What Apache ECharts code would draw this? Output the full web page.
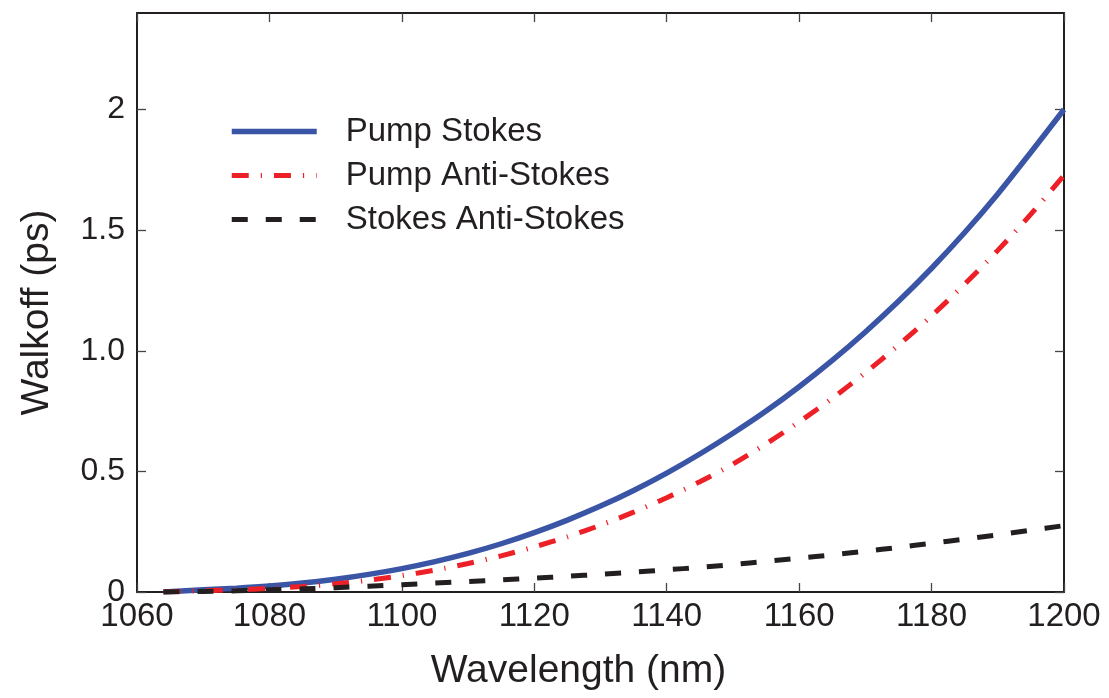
<!DOCTYPE html>
<html>
<head>
<meta charset="utf-8">
<script src="https://cdn.jsdelivr.net/npm/echarts@6/dist/echarts.min.js"></script>
<style>
html,body{margin:0;padding:0;background:#fff;}
#chart{width:1109px;height:698px;}
</style>
</head>
<body>
<div id="chart"></div>
<script>
const wavelengths = [1064,1070,1075,1080,1085,1090,1095,1100,1105,1110,1115,1120,1125,1130,1135,1140,1145,1150,1155,1160,1165,1170,1175,1180,1185,1190,1195,1200];
const pumpStokes = [0.000,0.009,0.016,0.025,0.037,0.053,0.073,0.097,0.126,0.160,0.200,0.246,0.298,0.356,0.421,0.493,0.572,0.658,0.750,0.851,0.960,1.078,1.205,1.342,1.490,1.650,1.823,2.000];
const pumpAntiStokes = [0.000,0.005,0.009,0.015,0.023,0.034,0.049,0.068,0.091,0.118,0.150,0.187,0.229,0.277,0.331,0.391,0.457,0.530,0.614,0.705,0.803,0.909,1.023,1.145,1.276,1.416,1.566,1.727];
const stokesAntiStokes = [0.000,0.002,0.005,0.009,0.013,0.018,0.024,0.030,0.037,0.043,0.050,0.057,0.065,0.073,0.082,0.092,0.102,0.114,0.127,0.140,0.154,0.169,0.185,0.202,0.219,0.237,0.256,0.275];
const seriesNames = ['Pump Stokes','Pump Anti-Stokes','Stokes Anti-Stokes'];
const yTickValues = [0,0.5,1,1.5,2];
const xTitle = 'Wavelength (nm)';
const yTitle = 'Walkoff (ps)';

const FONT = '"Liberation Sans", Arial, Helvetica, sans-serif';
const INK = '#231f20';
const pairs = arr => wavelengths.map((w,i)=>[w,arr[i]]);
const yFmt = v => (v===0 ? '0' : v===2 ? '2' : v.toFixed(1));

const chart = echarts.init(document.getElementById('chart'), null, {renderer:'canvas'});
const axisLine = {show:true, onZero:false, lineStyle:{color:INK, width:2}};
const tick = {show:true, inside:true, length:9, lineStyle:{color:'#444', width:1.3}};

chart.setOption({
  animation:false,
  backgroundColor:'#fff',
  grid:{left:137, right:45, top:13, bottom:106, containLabel:false},
  legend:{
    orient:'vertical', left:229, top:111, padding:0,
    itemWidth:85, itemHeight:14, itemGap:3,
    itemStyle:{opacity:0},
    lineStyle:{width:'inherit', type:'inherit'},
    textStyle:{fontFamily:FONT, fontSize:33, color:INK, lineHeight:41, padding:[0,0,0,24]},
    data:seriesNames
  },
  xAxis:[{
    type:'value', min:1060, max:1200, interval:20, position:'bottom',
    axisLine:axisLine, axisTick:tick, splitLine:{show:false},
    axisLabel:{fontFamily:FONT, fontSize:33, color:INK, margin:8, formatter:v=>String(v)},
    name:xTitle, nameLocation:'middle', nameGap:60,
    nameTextStyle:{fontFamily:FONT, fontSize:39, color:INK, padding:[0,44,0,0]}
  },{
    type:'value', min:1060, max:1200, interval:20, position:'top',
    axisLine:axisLine, axisTick:tick, axisLabel:{show:false}, splitLine:{show:false}
  }],
  yAxis:[{
    type:'value', min:0, max:2.4, position:'left',
    axisLine:axisLine,
    axisTick:Object.assign({}, tick, {customValues:yTickValues}),
    axisLabel:{fontFamily:FONT, fontSize:32, color:INK, margin:12, customValues:yTickValues, formatter:yFmt},
    splitLine:{show:false},
    name:yTitle, nameLocation:'middle', nameGap:80, nameRotate:90,
    nameTextStyle:{fontFamily:FONT, fontSize:39, color:INK, padding:[0,20,0,0]}
  },{
    type:'value', min:0, max:2.4, position:'right',
    axisLine:axisLine,
    axisTick:Object.assign({}, tick, {customValues:yTickValues}),
    axisLabel:{show:false}, splitLine:{show:false}
  }],
  series:[{
    name:seriesNames[0], type:'line', symbol:'none', smooth:0.3,
    data:pairs(pumpStokes), z:3,
    lineStyle:{color:'#3a55a6', width:5.5, cap:'butt'}, itemStyle:{color:'#3a55a6'}
  },{
    name:seriesNames[1], type:'line', symbol:'none', smooth:0.3,
    data:pairs(pumpAntiStokes), z:4,
    lineStyle:{color:'#ed2027', width:5, type:[17,12,1.2,12], cap:'butt'}, itemStyle:{color:'#ed2027'}
  },{
    name:seriesNames[2], type:'line', symbol:'none', smooth:0.3,
    data:pairs(stokesAntiStokes), z:5,
    lineStyle:{color:INK, width:5, type:[16,18], cap:'butt'}, itemStyle:{color:INK}
  }]
});
</script>
</body>
</html>
